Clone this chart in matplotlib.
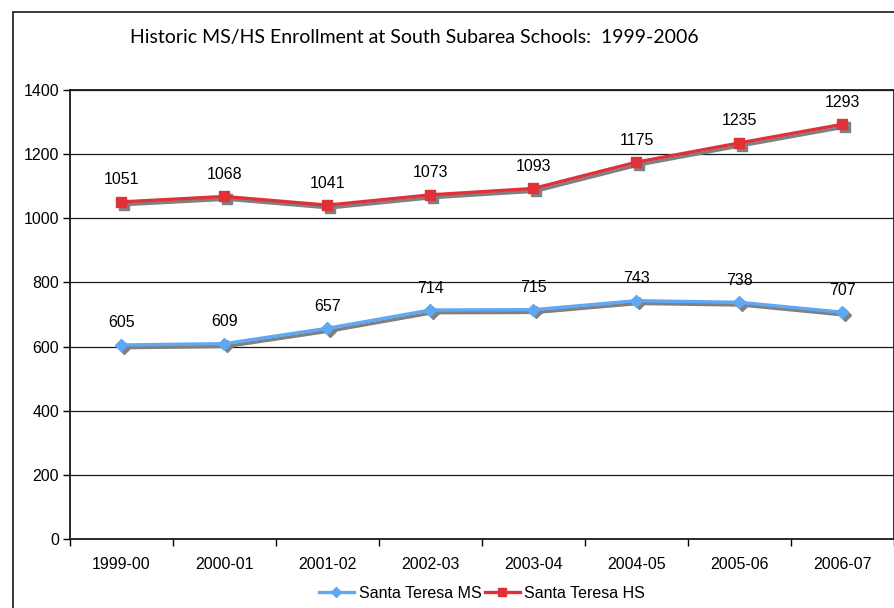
import matplotlib.pyplot as plt
import matplotlib.transforms as mtransforms
from matplotlib.patches import Rectangle

years = ["1999-00", "2000-01", "2001-02", "2002-03", "2003-04", "2004-05", "2005-06", "2006-07"]
ms = [605, 609, 657, 714, 715, 743, 738, 707]
hs = [1051, 1068, 1041, 1073, 1093, 1175, 1235, 1293]

W, H = 895, 608
plt.rcParams['font.family'] = ['Liberation Sans', 'DejaVu Sans']

fig = plt.figure(figsize=(W / 100, H / 100), dpi=100)
ax = fig.add_axes([70 / W, 1 - 539 / H, (894 - 70) / W, (539 - 90) / H])

# outer chart border (runs off the right/bottom of the picture)
fig.patches.append(Rectangle((13 / W, -0.2), 2, (H - 12) / H + 0.2, transform=fig.transFigure,
                             fill=False, edgecolor='#2b2b2b', linewidth=1.3, clip_on=False))

x = list(range(len(years)))
# gray drop shadow under each series
shift = mtransforms.offset_copy(ax.transData, fig=fig, x=1.5, y=-2, units='points')
for vals, mk, size in [(ms, 'D', 6), (hs, 's', 7)]:
    ax.plot(x, vals, color='#808080', lw=2.4, marker=mk, ms=size, mec='#808080',
            transform=shift, zorder=2)

ax.plot(x, ms, color='#5ea8f5', lw=2.4, marker='D', ms=6, mec='#5ea8f5',
        label='Santa Teresa MS', zorder=3)
ax.plot(x, hs, color='#e03038', lw=2.4, marker='s', ms=7, mec='#e03038',
        label='Santa Teresa HS', zorder=3)

for xi, v in zip(x, ms):
    ax.annotate(str(v), (xi, v), xytext=(0, 22), textcoords='offset pixels',
                ha='center', va='center', fontsize=11.5)
for xi, v in zip(x, hs):
    ax.annotate(str(v), (xi, v), xytext=(0, 22), textcoords='offset pixels',
                ha='center', va='center', fontsize=11.5)

ax.set_ylim(0, 1400)
ax.set_yticks(range(0, 1401, 200))
ax.yaxis.grid(True, color='#1a1a1a', lw=0.9)
ax.set_axisbelow(True)
ax.tick_params(axis='y', length=5, width=1, labelsize=11.5, pad=3)

ax.set_xlim(-0.5, len(years) - 0.5)
ax.set_xticks([i - 0.5 for i in range(len(years) + 1)])
ax.set_xticklabels([])
ax.set_xticks(x, minor=True)
ax.set_xticklabels(years, minor=True, fontsize=11.5)
ax.tick_params(axis='x', which='major', length=5, width=1)
ax.tick_params(axis='x', which='minor', length=0, pad=13)

for s in ax.spines.values():
    s.set_color('#1a1a1a')
    s.set_linewidth(1.3)

fig.text(130 / W, 1 - 38 / H, "Historic MS/HS Enrollment at South Subarea Schools:  1999-2006",
         ha='left', va='center', fontsize=14, family=['Lato', 'DejaVu Sans'])

ax.legend(loc='center', bbox_to_anchor=(0.5, (539 - 593) / (539 - 90)), ncol=2, frameon=False,
          fontsize=11.5, handlelength=2.2, handletextpad=0.3, columnspacing=0.2, borderaxespad=0,
          markerscale=0.8)

fig.savefig('out.png', dpi=100)
